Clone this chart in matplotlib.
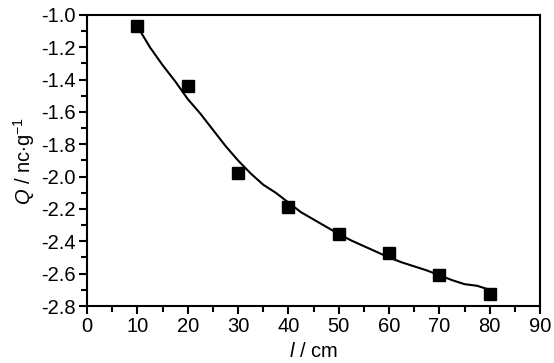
import numpy as np
import matplotlib.pyplot as plt
from matplotlib.ticker import MultipleLocator

# measured points
l_cm = [10, 20, 30, 40, 50, 60, 70, 80]
q_val = [-1.07, -1.44, -1.98, -2.19, -2.355, -2.47, -2.61, -2.725]

# fitted curve
fit_l = [10, 12.5, 15, 17.5, 20, 22.5, 25, 27.5, 30, 32.5, 35, 37.5, 40, 42.5, 45,
         47.5, 50, 52.5, 55, 57.5, 60, 62.5, 65, 67.5, 70, 72.5, 75, 77.5, 80]
fit_q = [-1.07, -1.20, -1.31, -1.41, -1.52, -1.61, -1.71, -1.81, -1.90, -1.98,
         -2.05, -2.10, -2.16, -2.22, -2.265, -2.31, -2.355, -2.395, -2.43,
         -2.465, -2.50, -2.53, -2.555, -2.58, -2.61, -2.64, -2.665, -2.675, -2.70]

plt.rcParams['font.family'] = ['Liberation Sans', 'DejaVu Sans']
plt.rcParams['mathtext.fontset'] = 'custom'
plt.rcParams['mathtext.it'] = 'Liberation Sans:italic'
plt.rcParams['mathtext.rm'] = 'Liberation Sans'

fig = plt.figure(figsize=(5.54, 3.63), dpi=100)
ax = fig.add_axes([0.157, 0.157, 0.818, 0.802])

ax.plot(fit_l, fit_q, color='black', lw=1.5)
ax.plot(l_cm, q_val, 's', color='black', markersize=8)

ax.set_xlim(0, 90)
ax.set_ylim(-2.8, -1.0)
ax.xaxis.set_major_locator(MultipleLocator(10))
ax.xaxis.set_minor_locator(MultipleLocator(5))
ax.yaxis.set_minor_locator(MultipleLocator(0.1))
yt = np.arange(-2.8, -0.99, 0.2)
ax.set_yticks(yt)
ax.set_yticklabels(['%.1f' % v for v in yt])

ax.tick_params(which='both', direction='out', width=1.5, labelsize=14.5, top=False, right=False)
ax.tick_params(which='major', length=6, pad=2)
ax.tick_params(which='minor', length=4)
for s in ax.spines.values():
    s.set_linewidth(1.5)

ax.set_xlabel(r'$\mathit{l}$ / cm', fontsize=14.5, labelpad=4)
ax.set_ylabel(r'$\mathit{Q}$ / nc$\cdot$g$^{-1}$', fontsize=14.5, labelpad=3)

fig.savefig('out.png', dpi=100)
